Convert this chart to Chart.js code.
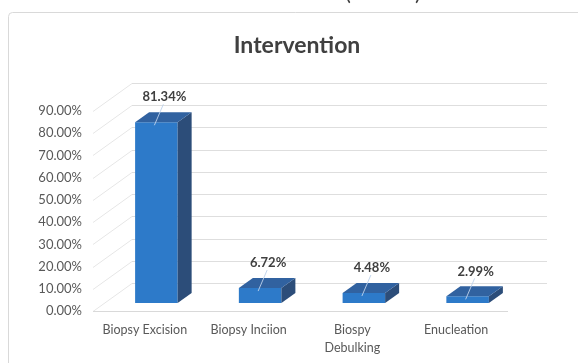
<!DOCTYPE html>
<html>
<head>
<meta charset="utf-8">
<script src="https://cdn.jsdelivr.net/npm/chart.js@4.4.1/dist/chart.umd.min.js"></script>
<style>
  html, body { margin: 0; padding: 0; background: #fff; }
</style>
</head>
<body>
<canvas id="chart" width="578" height="363"></canvas>
<script>
// data
const categories = ['Biopsy Excision', 'Biopsy Inciion', ['Biospy', 'Debulking'], 'Enucleation'];
const values = [81.34, 6.72, 4.48, 2.99];
const yTicks = [0, 10, 20, 30, 40, 50, 60, 70, 80, 90];

// 3d look
const WALL_DX = 39, WALL_DY = -28;   // depth of the whole box
const SHIFT_X = 11.5, SHIFT_Y = -8;  // bars sit a bit back from the front edge
const BAR_DX = 14, BAR_DY = -10;     // depth of one bar

const threeD = {
    id: 'threeD',
    beforeDraw(chart) {
        const ctx = chart.ctx;
        ctx.save();
        // frame round the chart
        ctx.strokeStyle = '#d9d9d9';
        ctx.lineWidth = 1;
        ctx.beginPath();
        ctx.roundRect(8.5, 12.5, 620, 400, 4);
        ctx.stroke();
        // bits of the caption above, cut off by the crop
        ctx.fillStyle = '#404040';
        ctx.font = '22px Lato';
        ctx.textAlign = 'left';
        ctx.textBaseline = 'alphabetic';
        ctx.fillText('(', 345, 0);
        ctx.fillText(')', 415, 0);
        // title
        ctx.font = 'bold 23px Lato';
        ctx.textAlign = 'center';
        ctx.textBaseline = 'middle';
        ctx.fillText('Intervention', 297, 46);
        ctx.restore();
    },
    beforeDatasetsDraw(chart) {
        const ctx = chart.ctx;
        const {left, right, bottom} = chart.chartArea;
        const y = chart.scales.y;
        ctx.save();
        ctx.lineWidth = 1;
        yTicks.forEach(v => {
            const py = Math.round(y.getPixelForValue(v)) + 0.5;
            ctx.strokeStyle = '#e6e6e6';
            ctx.beginPath();
            ctx.moveTo(left, py);
            ctx.lineTo(left + WALL_DX, py + WALL_DY);
            ctx.stroke();
            ctx.strokeStyle = '#dedede';
            ctx.beginPath();
            ctx.moveTo(left + WALL_DX, py + WALL_DY);
            ctx.lineTo(right + WALL_DX, py + WALL_DY);
            ctx.stroke();
        });
        // front edge of the floor
        ctx.strokeStyle = '#d9d9d9';
        ctx.beginPath();
        ctx.moveTo(left, Math.round(bottom) + 0.5);
        ctx.lineTo(right, Math.round(bottom) + 0.5);
        ctx.stroke();
        ctx.restore();

        // move the bars back into the box, chart.js draws the front faces
        ctx.save();
        ctx.translate(SHIFT_X, SHIFT_Y);
    },
    afterDatasetsDraw(chart) {
        const ctx = chart.ctx;
        const meta = chart.getDatasetMeta(0);
        meta.data.forEach(bar => {
            const l = bar.x - bar.width / 2, r = bar.x + bar.width / 2;
            // side
            ctx.fillStyle = '#2c4d79';
            ctx.beginPath();
            ctx.moveTo(r, bar.y);
            ctx.lineTo(r + BAR_DX, bar.y + BAR_DY);
            ctx.lineTo(r + BAR_DX, bar.base + BAR_DY);
            ctx.lineTo(r, bar.base);
            ctx.closePath();
            ctx.fill();
            // top
            ctx.fillStyle = '#3162a0';
            ctx.beginPath();
            ctx.moveTo(l, bar.y);
            ctx.lineTo(l + BAR_DX, bar.y + BAR_DY);
            ctx.lineTo(r + BAR_DX, bar.y + BAR_DY);
            ctx.lineTo(r, bar.y);
            ctx.closePath();
            ctx.fill();
        });
        ctx.restore();

        // value labels with their thin leader lines
        ctx.save();
        meta.data.forEach((bar, i) => {
            const fx = bar.x + SHIFT_X;
            const topBack = bar.y + SHIFT_Y + BAR_DY;
            const lx = fx + 8, ly = topBack - 15;
            ctx.strokeStyle = 'rgba(190, 210, 235, 0.9)';
            ctx.lineWidth = 1;
            ctx.beginPath();
            ctx.moveTo(lx - 1, ly + 7);
            ctx.lineTo(fx - 2, bar.y + SHIFT_Y + 3);
            ctx.stroke();
            ctx.fillStyle = '#404040';
            ctx.font = 'bold 13px Lato';
            ctx.textAlign = 'center';
            ctx.textBaseline = 'middle';
            ctx.fillText(values[i].toFixed(2) + '%', lx, ly);
        });
        ctx.restore();
    }
};

new Chart(document.querySelector('#chart').getContext('2d'), {
    type: 'bar',
    data: {
        labels: categories,
        datasets: [{
            label: 'Intervention',
            data: values,
            backgroundColor: '#2d7ac9',
            borderWidth: 0,
            barPercentage: 0.41,
            categoryPercentage: 1,
            clip: false
        }]
    },
    options: {
        responsive: false,
        animation: false,
        devicePixelRatio: 1,
        layout: {
            autoPadding: false,
            padding: {left: 8, right: 70, top: 111, bottom: 0}
        },
        plugins: {
            legend: {display: false},
            title: {display: false},
            tooltip: {enabled: false}
        },
        scales: {
            x: {
                grid: {display: false, drawTicks: false},
                border: {display: false},
                ticks: {
                    color: '#595959',
                    padding: 10,
                    maxRotation: 0,
                    autoSkip: false,
                    font: {family: 'Lato', size: 12.5, lineHeight: 1.45}
                },
                afterFit: scale => { scale.height = 52; }
            },
            y: {
                min: 0,
                max: 90,
                grid: {display: false, drawTicks: false},
                border: {display: false},
                afterBuildTicks: scale => { scale.ticks = yTicks.map(v => ({value: v})); },
                ticks: {
                    color: '#595959',
                    padding: 11,
                    font: {family: 'Lato', size: 13},
                    callback: v => v.toFixed(2) + '%'
                },
                afterFit: scale => { scale.width = 85; }
            }
        }
    },
    plugins: [threeD]
});
</script>
</body>
</html>
